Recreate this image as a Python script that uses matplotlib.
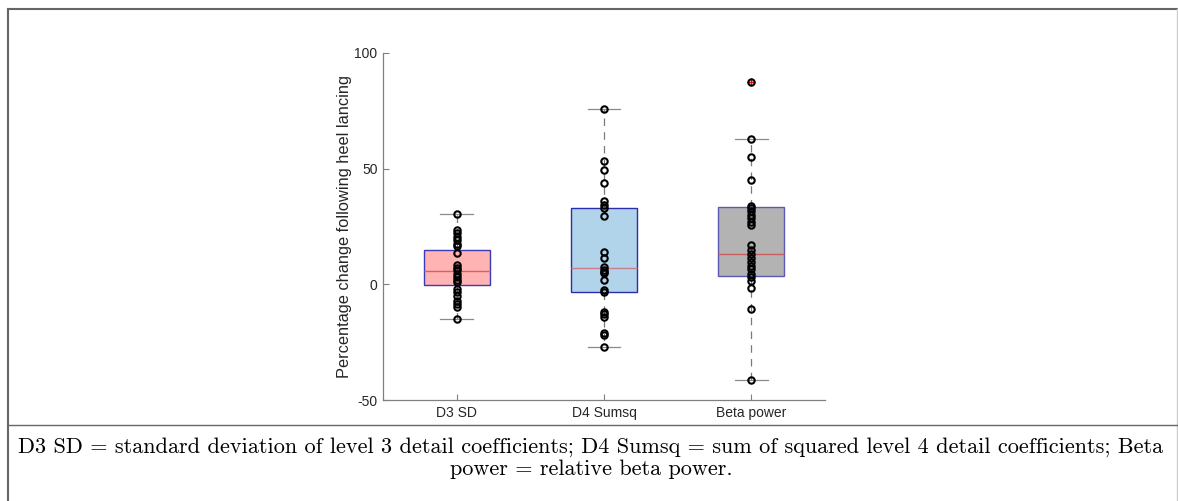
import matplotlib
matplotlib.use("Agg")
import matplotlib.pyplot as plt
from matplotlib.lines import Line2D
import numpy as np

categories = ["D3 SD", "D4 Sumsq", "Beta power"]

d3_points = [30.5, 23.5, 22, 20.5, 19, 17.5, 16.5, 13.5, 8.5, 7, 6, 4.5, 3, 2, 1,
             -2, -3.5, -5, -7, -8.5, -10, -14.8]
d4_points = [76, 53.5, 49.5, 44, 36, 34.5, 33, 29.5, 14, 11.5, 7.5, 6, 5.5, 5, 2,
             -2.5, -3.5, -12, -13, -14, -21, -22, -27]
beta_points = [87.5, 63, 55, 45, 34, 33, 31.5, 30, 28.5, 27, 25.5, 17, 15, 13.3,
               11.5, 9.5, 8, 6.5, 4.5, 3, 1.5, -1.5, -10.5, -41.5]

q1s = [-0.3, -3.5, 3.4]
medians = [5.8, 7.0, 13.0]
q3s = [14.8, 33.2, 33.5]
whislos = [-14.8, -27, -41.5]
whishis = [30.5, 76, 63]
fliers = [[], [], [87.5]]

yticks = [-50, 0, 50, 100]
ylabel = "Percentage change following heel lancing"
caption = ("D3 SD = standard deviation of level 3 detail coefficients; D4 Sumsq = sum of squared level 4 detail coefficients; Beta\n"
           "power = relative beta power.")

fill_colors = ["#ffb3b3", "#b1d4ea", "#b3b3b3"]
edge_colors = ["#3a3ab4", "#2c2cb0", "#5a5ab4"]
median_colors = ["#e8585c", "#c8808c", "#c86060"]

plt.rcParams['font.family'] = ['Liberation Sans', 'DejaVu Sans']
plt.rcParams['axes.unicode_minus'] = False

fig = plt.figure(figsize=(11.78, 5.01), dpi=100)
ax = fig.add_axes([383/1178, 1-400/501, (825-383)/1178, (400-53)/501])

stats = []
for i in range(3):
    stats.append(dict(q1=q1s[i], med=medians[i], q3=q3s[i], whislo=whislos[i],
                      whishi=whishis[i], fliers=fliers[i], label=categories[i]))

positions = [1, 2, 3]
bp = ax.bxp(stats, positions=positions, widths=0.45, patch_artist=True,
            showfliers=True,
            whiskerprops=dict(color="#7a7a7a", linestyle=(0, (6, 5)), linewidth=0.9),
            capprops=dict(color="#8a8a8a", linewidth=0.9),
            flierprops=dict(marker="+", markeredgecolor="red", markersize=6, linestyle="none"),
            capwidths=0.22)
for i, box in enumerate(bp["boxes"]):
    box.set_facecolor(fill_colors[i])
    box.set_edgecolor(edge_colors[i])
    box.set_linewidth(1.0)
for i, med in enumerate(bp["medians"]):
    med.set_color(median_colors[i])
    med.set_linewidth(1.0)

for pos, pts in zip(positions, [d3_points, d4_points, beta_points]):
    ax.plot(np.full(len(pts), pos), pts, linestyle="none", marker="o",
            markersize=4.6, markerfacecolor="none", markeredgecolor="black",
            markeredgewidth=1.5, zorder=5)

ax.set_xlim(0.5, 3.5)
ax.set_ylim(-50, 100)
ax.set_yticks(yticks)
ax.set_xticks(positions)
ax.set_xticklabels(categories)
for s in ["top", "right"]:
    ax.spines[s].set_visible(False)
for s in ["left", "bottom"]:
    ax.spines[s].set_color("#808080")
    ax.spines[s].set_linewidth(0.9)
ax.tick_params(direction="in", length=4, width=0.8, color="#808080",
               labelsize=10, labelcolor="#262626", pad=4)
ax.set_ylabel(ylabel, fontsize=11.8, color="#262626", labelpad=2)

# frame and separator
fig.add_artist(Line2D([8/1178, 8/1178], [0, 1-9/501], transform=fig.transFigure,
                      color="#666666", linewidth=1.5))
fig.add_artist(Line2D([8/1178, 1177/1178], [1-9/501, 1-9/501], transform=fig.transFigure,
                      color="#666666", linewidth=1.5))
fig.add_artist(Line2D([1176.5/1178, 1176.5/1178], [0, 1-9/501], transform=fig.transFigure,
                      color="#cccccc", linewidth=1.0))
fig.add_artist(Line2D([8/1178, 1177/1178], [1-425/501, 1-425/501], transform=fig.transFigure,
                      color="#666666", linewidth=1.0))

fig.text(591/1178, 1-458/501, caption, ha="center", va="center", multialignment="center",
         fontsize=16, family=["cmr10", "DejaVu Serif"], linespacing=1.12)

fig.savefig("out.png", dpi=100)
